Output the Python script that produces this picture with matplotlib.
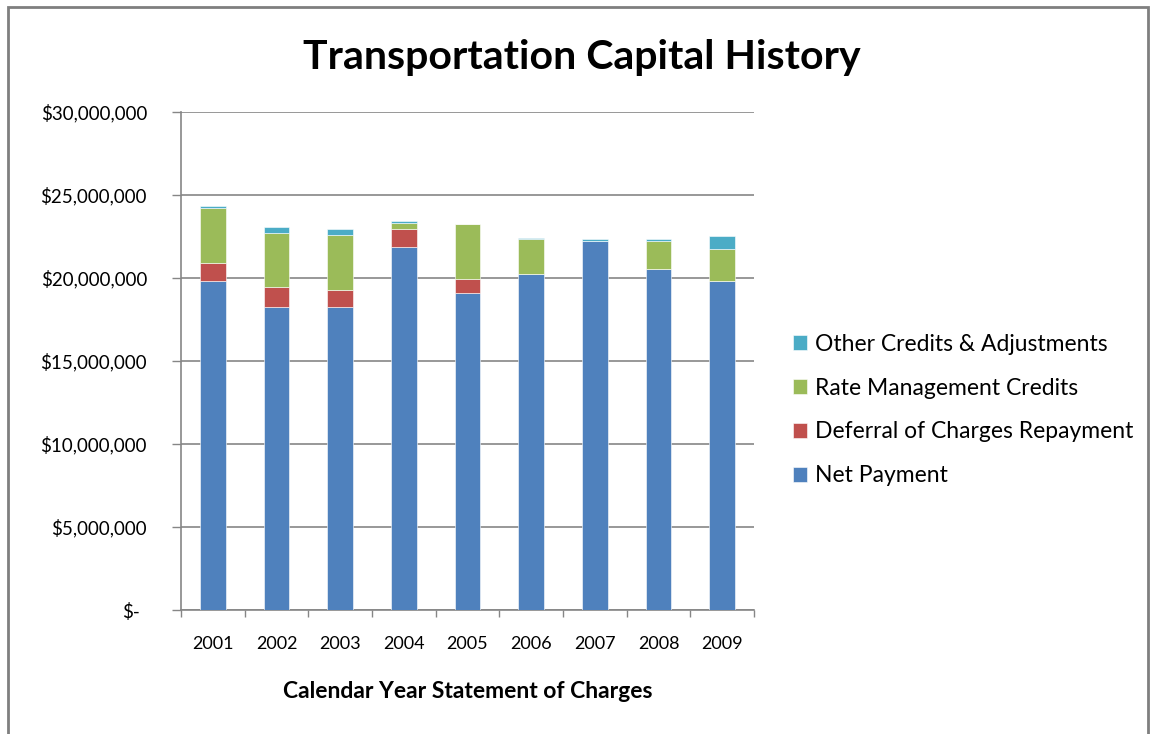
import matplotlib.pyplot as plt
import matplotlib.patches as mpatches
import numpy as np

years = ['2001', '2002', '2003', '2004', '2005', '2006', '2007', '2008', '2009']
net_payment = [19.84, 18.23, 18.23, 21.89, 19.12, 20.26, 22.25, 20.54, 19.82]
deferral = [1.06, 1.23, 1.07, 1.08, 0.80, 0.0, 0.0, 0.0, 0.0]
rate_mgmt = [3.33, 3.23, 3.31, 0.36, 3.33, 2.09, 0.0, 1.69, 1.93]
other = [0.10, 0.36, 0.36, 0.10, 0.0, 0.08, 0.10, 0.12, 0.78]

series = [
    ('Net Payment', net_payment, '#4F81BD'),
    ('Deferral of Charges Repayment', deferral, '#C0504D'),
    ('Rate Management Credits', rate_mgmt, '#9BBB59'),
    ('Other Credits & Adjustments', other, '#4BACC6'),
]

plt.rcParams['font.family'] = ['Lato', 'DejaVu Sans']

W, H = 1152, 734
fig = plt.figure(figsize=(W / 100, H / 100), dpi=100)
ax = fig.add_axes([181 / W, 1 - 610 / H, (754 - 181) / W, (610 - 112) / H])

x = np.arange(len(years))
bottom = np.zeros(len(years))
handles = []
for name, vals, color in series:
    v = np.array(vals) * 1e6
    bars = ax.bar(x, v, 0.4, bottom=bottom, color=color, label=name,
                  edgecolor='white', linewidth=0.4, zorder=3)
    bottom += v
    handles.append(bars)

ax.set_xlim(-0.5, len(years) - 0.5)
ax.set_ylim(0, 30e6)
ticks = np.arange(0, 30e6 + 1, 5e6)
ax.set_yticks(ticks)
ax.set_yticklabels(['$-'] + ['${:,.0f}'.format(t) for t in ticks[1:]], fontsize=13.5)
ax.tick_params(axis='y', length=6.5, width=1, color='#868686', pad=18)
ax.yaxis.get_major_ticks()[0].set_pad(23)
ax.grid(axis='y', color='#868686', linewidth=1.2, zorder=0)

ax.set_xticks(x)
ax.set_xticklabels(years, fontsize=13)
ax.set_xticks(np.arange(-0.5, len(years)), minor=True)
ax.tick_params(axis='x', which='major', length=0, pad=19)
ax.tick_params(axis='x', which='minor', length=5, width=1, color='#868686')

for s in ['top', 'right']:
    ax.spines[s].set_visible(False)
for s in ['left', 'bottom']:
    ax.spines[s].set_color('#868686')
    ax.spines[s].set_linewidth(1.2)

fig.text(467.5 / W, 1 - 691 / H, 'Calendar Year Statement of Charges', fontsize=16.5,
         fontweight='bold', ha='center', va='center')

fig.text(582 / W, 1 - 57 / H, 'Transportation Capital History', fontsize=29.5,
         fontweight='bold', ha='center', va='center')

fig.legend(handles[::-1], [s[0] for s in series][::-1], loc='center left',
           bbox_to_anchor=(793 / W, 1 - 410 / H), frameon=False, fontsize=16.5,
           borderaxespad=0, borderpad=0,
           handlelength=0.6, handleheight=0.6, labelspacing=1.0, handletextpad=0.35)

fig.patches.append(mpatches.Rectangle((8 / W, -0.1), (1148 - 8) / W, 1.1 - 7 / H,
                                      transform=fig.transFigure, fill=False,
                                      edgecolor='#7f7f7f', linewidth=2))

fig.savefig('out.png', dpi=100)
